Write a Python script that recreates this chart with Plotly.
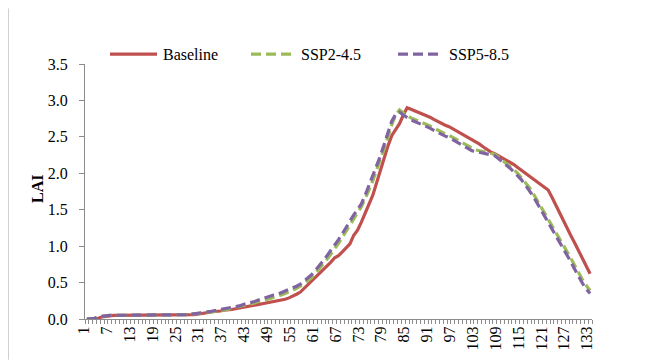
import plotly.graph_objects as go

days = list(range(1, 134))
tick_labels = [str(d) for d in range(1, 134, 6)]

baseline = [
    0.00, 0.00, 0.00, 0.01, 0.03, 0.04, 0.045, 0.05, 0.05,
    0.05, 0.05, 0.05, 0.05, 0.05, 0.05, 0.05, 0.05, 0.05, 0.05,
    0.05, 0.05, 0.05, 0.05, 0.05, 0.055, 0.055, 0.06, 0.06, 0.06,
    0.065, 0.07, 0.08, 0.09, 0.10, 0.10, 0.11, 0.12, 0.12, 0.13,
    0.14, 0.15, 0.15, 0.16, 0.17, 0.18, 0.19, 0.20, 0.21, 0.22,
    0.23, 0.24, 0.25, 0.27, 0.29, 0.31, 0.34, 0.37, 0.42, 0.47,
    0.52, 0.58, 0.63, 0.68, 0.73, 0.78, 0.84, 0.87, 0.92, 0.97,
    1.03, 1.15, 1.22, 1.33, 1.45, 1.56, 1.70, 1.87, 2.05, 2.22,
    2.38, 2.52, 2.60, 2.68, 2.80, 2.90, 2.88, 2.86, 2.84, 2.82,
    2.79, 2.77, 2.74, 2.71, 2.69, 2.66, 2.64, 2.61, 2.59, 2.56,
    2.53, 2.50, 2.47, 2.43, 2.40, 2.36, 2.32, 2.29, 2.27, 2.24,
    2.21, 2.18, 2.16, 2.12, 2.08, 2.04, 2.00, 1.96, 1.93, 1.89,
    1.85, 1.81, 1.77, 1.67, 1.56, 1.46, 1.35, 1.25, 1.14, 1.04,
    0.93, 0.83, 0.72, 0.62,
]

ssp245 = [
    0.00, 0.00, 0.01, 0.03, 0.04, 0.045, 0.05, 0.05, 0.05,
    0.05, 0.05, 0.05, 0.05, 0.05, 0.05, 0.05, 0.05, 0.05, 0.05,
    0.05, 0.05, 0.05, 0.05, 0.05, 0.055, 0.06, 0.06, 0.065, 0.07,
    0.07, 0.075, 0.085, 0.095, 0.10, 0.11, 0.115, 0.12, 0.13, 0.15,
    0.16, 0.17, 0.18, 0.20, 0.21, 0.22, 0.24, 0.25, 0.27, 0.28,
    0.30, 0.31, 0.33, 0.35, 0.37, 0.39, 0.42, 0.45, 0.49, 0.53,
    0.57, 0.63, 0.69, 0.75, 0.82, 0.89, 0.96, 1.04, 1.12, 1.21,
    1.30, 1.38, 1.46, 1.54, 1.65, 1.77, 1.90, 2.04, 2.18, 2.34,
    2.50, 2.67, 2.80, 2.87, 2.83, 2.79, 2.76, 2.74, 2.72, 2.69,
    2.67, 2.65, 2.62, 2.59, 2.57, 2.54, 2.52, 2.49, 2.46, 2.43,
    2.40, 2.37, 2.34, 2.32, 2.31, 2.30, 2.28, 2.27, 2.26, 2.22,
    2.18, 2.14, 2.10, 2.05, 2.00, 1.94, 1.88, 1.81, 1.73, 1.64,
    1.55, 1.47, 1.38, 1.29, 1.19, 1.10, 1.01, 0.92, 0.83, 0.73,
    0.63, 0.54, 0.46, 0.39,
]

ssp585 = [
    0.00, 0.00, 0.01, 0.03, 0.04, 0.045, 0.05, 0.05, 0.05,
    0.05, 0.05, 0.05, 0.05, 0.05, 0.05, 0.05, 0.05, 0.05, 0.05,
    0.05, 0.05, 0.05, 0.05, 0.05, 0.055, 0.06, 0.06, 0.065, 0.07,
    0.075, 0.08, 0.09, 0.10, 0.11, 0.12, 0.12, 0.13, 0.14, 0.16,
    0.17, 0.18, 0.20, 0.21, 0.23, 0.24, 0.26, 0.28, 0.30, 0.31,
    0.33, 0.34, 0.36, 0.38, 0.40, 0.42, 0.45, 0.48, 0.52, 0.56,
    0.61, 0.67, 0.73, 0.80, 0.87, 0.94, 1.01, 1.09, 1.17, 1.26,
    1.35, 1.43, 1.50, 1.58, 1.70, 1.83, 1.96, 2.10, 2.24, 2.40,
    2.55, 2.72, 2.81, 2.84, 2.80, 2.76, 2.73, 2.71, 2.69, 2.66,
    2.64, 2.62, 2.59, 2.56, 2.54, 2.51, 2.49, 2.46, 2.43, 2.40,
    2.37, 2.34, 2.31, 2.30, 2.29, 2.28, 2.27, 2.26, 2.24, 2.20,
    2.16, 2.12, 2.07, 2.02, 1.97, 1.91, 1.84, 1.77, 1.69, 1.60,
    1.51, 1.43, 1.34, 1.24, 1.14, 1.05, 0.96, 0.87, 0.78, 0.68,
    0.58, 0.49, 0.41, 0.35,
]

series_names = ["Baseline", "SSP2-4.5", "SSP5-8.5"]
colors = ["#C0504D", "#9BBB59", "#8064A2"]
dashes = ["solid", "10px,5px", "10px,5px"]

FONT = "Liberation Serif"
AXIS_COLOR = "#8c8c8c"

fig = go.Figure()
for name, vals, col, dsh in zip(series_names, [baseline, ssp245, ssp585], colors, dashes):
    fig.add_trace(go.Scatter(
        x=days, y=vals, mode="lines", name=name,
        line=dict(color=col, width=3.2, dash=dsh),
        showlegend=False,
    ))

# invisible trace on second x axis to carry category-boundary ticks
fig.add_trace(go.Scatter(x=[1], y=[0], xaxis="x2", mode="markers",
                         marker=dict(opacity=0), showlegend=False, hoverinfo="skip"))

# The page body has an 8px margin, so the figure is 8px smaller than the window
fig.update_layout(
    width=639, height=354,
    margin=dict(l=77, r=55, t=56, b=41),
    paper_bgcolor="white", plot_bgcolor="white",
    font=dict(family=FONT, size=16, color="black"),
    xaxis=dict(
        range=[0.5, 133.5], tickmode="array",
        tickvals=list(range(1, 134, 6)), ticktext=tick_labels,
        tickangle=-90, ticks="", showline=True, linecolor=AXIS_COLOR,
        linewidth=1, showgrid=False, zeroline=False, ticklabelshift=-3,
        tickfont=dict(family=FONT, size=16),
    ),
    xaxis2=dict(
        range=[0.5, 133.5], overlaying="x", side="bottom",
        tickmode="linear", tick0=0.5, dtick=1, ticks="outside",
        ticklen=4, tickcolor=AXIS_COLOR, showticklabels=False,
        showgrid=False, zeroline=False, showline=False,
    ),
    yaxis=dict(
        range=[0, 3.5], tickmode="linear", tick0=0, dtick=0.5,
        tickformat=".1f", ticks="outside", ticklen=5, tickcolor=AXIS_COLOR,
        showline=True, linecolor=AXIS_COLOR, linewidth=1,
        showgrid=False, zeroline=False, ticklabelstandoff=8,
        tickfont=dict(family=FONT, size=16),
    ),
)

# helpers: page pixel -> paper coordinates
W, H = 507.0, 257.0
def px(x):
    return (x - 85) / W
def py(y):
    return (321 - y) / H

# y axis title
fig.add_annotation(text="<b>LAI</b>", x=px(37), y=py(190), xref="paper", yref="paper",
                   xanchor="center", yanchor="middle",
                   textangle=-90, showarrow=False, font=dict(family=FONT, size=16))

# custom legend
leg_y = py(54)
leg = [(110, 157, 161), (251, 293, 299), (398, 440, 447)]
for (x0, x1, tx), name, col, dsh in zip(leg, series_names, colors, dashes):
    fig.add_shape(type="line", xref="paper", yref="paper",
                  x0=px(x0), x1=px(x1), y0=leg_y, y1=leg_y,
                  line=dict(color=col, width=3.2, dash=dsh))
    fig.add_annotation(text=name, x=px(tx), y=leg_y, xref="paper", yref="paper",
                       xanchor="left", yanchor="middle", showarrow=False,
                       font=dict(family=FONT, size=16))

# chart-area frame (left edge)
fig.add_shape(type="line", xref="paper", yref="paper",
              x0=px(8.5), x1=px(8.5), y0=py(8), y1=py(362),
              line=dict(color="#d0d0d0", width=1))

fig.write_html("out.html")
